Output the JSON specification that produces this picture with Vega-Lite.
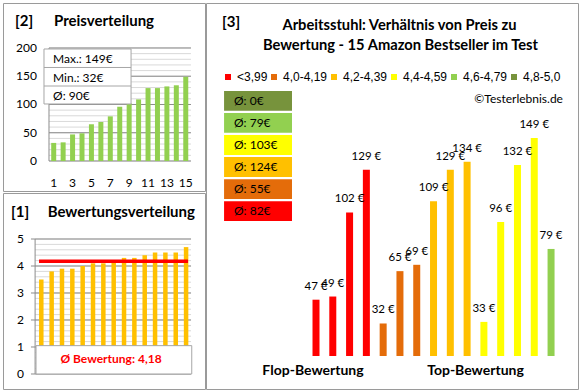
{
 "$schema": "https://vega.github.io/schema/vega-lite/v6.json",
 "background": "white",
 "padding": {"left": 2, "top": 2, "right": 3, "bottom": 2},
 "config": {
  "view": {"stroke": "#9a9a9a", "strokeWidth": 1},
  "font": "Lato",
  "locale": {"number": {"decimal": ",", "thousands": ".", "grouping": [3], "currency": ["", " €"]}}
 },
 "datasets": {
  "prices": [{"rank":1,"price":32},{"rank":2,"price":33},{"rank":3,"price":47},{"rank":4,"price":49},{"rank":5,"price":65},{"rank":6,"price":69},{"rank":7,"price":79},{"rank":8,"price":96},{"rank":9,"price":102},{"rank":10,"price":109},{"rank":11,"price":129},{"rank":12,"price":129},{"rank":13,"price":132},{"rank":14,"price":134},{"rank":15,"price":149}],
  "ratings": [{"rank":1,"rating":3.5},{"rank":2,"rating":3.8},{"rank":3,"rating":3.9},{"rank":4,"rating":3.9},{"rank":5,"rating":4.0},{"rank":6,"rating":4.1},{"rank":7,"rating":4.1},{"rank":8,"rating":4.2},{"rank":9,"rating":4.3},{"rank":10,"rating":4.3},{"rank":11,"rating":4.4},{"rank":12,"rating":4.5},{"rank":13,"rating":4.5},{"rank":14,"rating":4.5},{"rank":15,"rating":4.7}],
  "products": [{"pos":1,"price":47,"group":"<3,99"},{"pos":2,"price":49,"group":"<3,99"},{"pos":3,"price":102,"group":"<3,99"},{"pos":4,"price":129,"group":"<3,99"},{"pos":5,"price":32,"group":"4,0-4,19"},{"pos":6,"price":65,"group":"4,0-4,19"},{"pos":7,"price":69,"group":"4,0-4,19"},{"pos":8,"price":109,"group":"4,2-4,39"},{"pos":9,"price":129,"group":"4,2-4,39"},{"pos":10,"price":134,"group":"4,2-4,39"},{"pos":11,"price":33,"group":"4,4-4,59"},{"pos":12,"price":96,"group":"4,4-4,59"},{"pos":13,"price":132,"group":"4,4-4,59"},{"pos":14,"price":149,"group":"4,4-4,59"},{"pos":15,"price":79,"group":"4,6-4,79"}],
  "groups": [{"group":"4,8-5,0","avg":"Ø: 0€"},{"group":"4,6-4,79","avg":"Ø: 79€"},{"group":"4,4-4,59","avg":"Ø: 103€"},{"group":"4,2-4,39","avg":"Ø: 124€"},{"group":"4,0-4,19","avg":"Ø: 55€"},{"group":"<3,99","avg":"Ø: 82€"}],
  "g2minor": [{"v":0},{"v":10},{"v":20},{"v":30},{"v":40},{"v":50},{"v":60},{"v":70},{"v":80},{"v":90},{"v":100},{"v":110},{"v":120},{"v":130},{"v":140},{"v":150},{"v":160},{"v":170},{"v":180},{"v":190},{"v":200}],
  "g2major": [{"v":0},{"v":50},{"v":100},{"v":150},{"v":200}],
  "t2x": [{"v":1},{"v":3},{"v":5},{"v":7},{"v":9},{"v":11},{"v":13},{"v":15}],
  "g1minor": [{"v":0},{"v":0.2},{"v":0.4},{"v":0.6},{"v":0.8},{"v":1},{"v":1.2},{"v":1.4},{"v":1.6},{"v":1.8},{"v":2},{"v":2.2},{"v":2.4},{"v":2.6},{"v":2.8},{"v":3},{"v":3.2},{"v":3.4},{"v":3.6},{"v":3.8},{"v":4},{"v":4.2},{"v":4.4},{"v":4.6},{"v":4.8},{"v":5}],
  "g1major": [{"v":0},{"v":1},{"v":2},{"v":3},{"v":4},{"v":5}]
 },
 "spacing": -2,
 "hconcat": [
  {
   "spacing": 0,
   "vconcat": [
    {
     "width": 202, "height": 188,
     "layer": [
      {"data": {"name": "g2minor"}, "mark": {"type": "rule", "color": "#d9d9d9"},
       "encoding": {"y": {"field": "v", "type": "quantitative", "axis": null, "scale": {"domain": [-53.1, 279.6], "nice": false, "zero": false, "padding": 0}},
        "x": {"datum": 0.5, "type": "quantitative", "axis": null, "scale": {"domain": [-4.376, 17.04], "nice": false, "zero": false, "padding": 0}}, "x2": {"datum": 15.55}}},
      {"data": {"name": "g2major"}, "mark": {"type": "rule", "color": "#8c8c8c"},
       "encoding": {"y": {"field": "v", "type": "quantitative", "axis": null}, "x": {"datum": 0.5, "type": "quantitative", "axis": null}, "x2": {"datum": 15.55}}},
      {"data": {"name": "g2major"}, "mark": {"type": "text", "align": "right", "baseline": "middle", "fontSize": 12, "color": "#000"},
       "encoding": {"y": {"field": "v", "type": "quantitative", "axis": null}, "x": {"datum": -0.77, "type": "quantitative", "axis": null}, "text": {"field": "v", "type": "quantitative"}}},
      {"data": {"name": "t2x"}, "mark": {"type": "text", "align": "center", "baseline": "middle", "fontSize": 12, "color": "#000"},
       "encoding": {"x": {"field": "v", "type": "quantitative", "axis": null}, "y": {"datum": -38.9, "type": "quantitative", "axis": null}, "text": {"field": "v", "type": "quantitative"}}},
      {"data": {"values": [{}]}, "mark": {"type": "rule", "color": "#8c8c8c"},
       "encoding": {"x": {"datum": 0.5, "type": "quantitative", "axis": null}, "y": {"datum": 0, "type": "quantitative", "axis": null}, "y2": {"datum": 200}}},
      {"data": {"name": "prices"}, "mark": {"type": "bar", "color": "#92D050", "size": 5},
       "encoding": {
        "x": {"field": "rank", "type": "quantitative", "axis": null},
        "y": {"field": "price", "type": "quantitative", "axis": null},
        "y2": {"datum": 0}}},
      {"data": {"values": [{}]}, "mark": {"type": "rect", "fill": "white", "stroke": "#a6a6a6", "strokeWidth": 1},
       "encoding": {"x": {"datum": -0.03, "type": "quantitative", "axis": null}, "x2": {"datum": 9.2}, "y": {"datum": 198.2, "type": "quantitative", "axis": null}, "y2": {"datum": 100.9}}},
      {"data": {"values": [{}]}, "mark": {"type": "rule", "color": "#a6a6a6"},
       "encoding": {"x": {"datum": -0.03, "type": "quantitative", "axis": null}, "x2": {"datum": 9.2}, "y": {"datum": 165.5, "type": "quantitative", "axis": null}}},
      {"data": {"values": [{}]}, "mark": {"type": "rule", "color": "#a6a6a6"},
       "encoding": {"x": {"datum": -0.03, "type": "quantitative", "axis": null}, "x2": {"datum": 9.2}, "y": {"datum": 132.7, "type": "quantitative", "axis": null}}},
      {"data": {"values": [{"t": "Max.: 149€"}]}, "mark": {"type": "text", "align": "left", "baseline": "middle", "fontSize": 12, "color": "#000"},
       "encoding": {"x": {"datum": 0.93, "type": "quantitative", "axis": null}, "y": {"datum": 180.5, "type": "quantitative", "axis": null}, "text": {"field": "t"}}},
      {"data": {"values": [{"t": "Min.: 32€"}]}, "mark": {"type": "text", "align": "left", "baseline": "middle", "fontSize": 12, "color": "#000"},
       "encoding": {"x": {"datum": 0.93, "type": "quantitative", "axis": null}, "y": {"datum": 146, "type": "quantitative", "axis": null}, "text": {"field": "t"}}},
      {"data": {"values": [{"t": "Ø: 90€"}]}, "mark": {"type": "text", "align": "left", "baseline": "middle", "fontSize": 12, "color": "#000"},
       "encoding": {"x": {"datum": 0.93, "type": "quantitative", "axis": null}, "y": {"datum": 115.5, "type": "quantitative", "axis": null}, "text": {"field": "t"}}},
      {"data": {"values": [{"t": "[2]"}]}, "mark": {"type": "text", "align": "left", "baseline": "middle", "fontSize": 15, "fontWeight": "bold", "color": "#000"},
       "encoding": {"x": {"datum": -3.1, "type": "quantitative", "axis": null}, "y": {"datum": 247.8, "type": "quantitative", "axis": null}, "text": {"field": "t"}}},
      {"data": {"values": [{"t": "Preisverteilung"}]}, "mark": {"type": "text", "align": "left", "baseline": "middle", "fontSize": 15, "fontWeight": "bold", "color": "#000"},
       "encoding": {"x": {"datum": 1.03, "type": "quantitative", "axis": null}, "y": {"datum": 247.8, "type": "quantitative", "axis": null}, "text": {"field": "t"}}}
     ]
    },
    {
     "width": 202, "height": 196,
     "layer": [
      {"data": {"name": "g1minor"}, "mark": {"type": "rule", "color": "#d9d9d9"},
       "encoding": {"y": {"field": "v", "type": "quantitative", "axis": null, "scale": {"domain": [-0.556, 6.704], "nice": false, "zero": false, "padding": 0}},
        "x": {"datum": 0.4, "type": "quantitative", "axis": null, "scale": {"domain": [-2.704, 16.83], "nice": false, "zero": false, "padding": 0}}, "x2": {"datum": 15.48}}},
      {"data": {"name": "g1major"}, "mark": {"type": "rule", "color": "#8c8c8c"},
       "encoding": {"y": {"field": "v", "type": "quantitative", "axis": null}, "x": {"datum": 0.0, "type": "quantitative", "axis": null}, "x2": {"datum": 15.48}}},
      {"data": {"name": "g1major"}, "mark": {"type": "text", "align": "right", "baseline": "middle", "fontSize": 12, "color": "#000"},
       "encoding": {"y": {"field": "v", "type": "quantitative", "axis": null}, "x": {"datum": -0.673, "type": "quantitative", "axis": null}, "text": {"field": "v", "type": "quantitative"}}},
      {"data": {"values": [{}]}, "mark": {"type": "rule", "color": "#8c8c8c"},
       "encoding": {"x": {"datum": 0.4, "type": "quantitative", "axis": null}, "y": {"datum": 0, "type": "quantitative", "axis": null}, "y2": {"datum": 5}}},
      {"data": {"name": "ratings"}, "mark": {"type": "bar", "color": "#FFC000", "size": 4.5},
       "encoding": {
        "x": {"field": "rank", "type": "quantitative", "axis": null},
        "y": {"field": "rating", "type": "quantitative", "axis": null},
        "y2": {"datum": 0}}},
      {"data": {"values": [{}]}, "mark": {"type": "rule", "color": "#FF0000", "strokeWidth": 3.5},
       "encoding": {"x": {"datum": 0.78, "type": "quantitative", "axis": null}, "x2": {"datum": 15.19}, "y": {"datum": 4.18, "type": "quantitative", "axis": null}}},
      {"data": {"values": [{}]}, "mark": {"type": "rect", "fill": "white", "stroke": "#a6a6a6", "strokeWidth": 1},
       "encoding": {"x": {"datum": 0.49, "type": "quantitative", "axis": null}, "x2": {"datum": 15.55}, "y": {"datum": 0, "type": "quantitative", "axis": null}, "y2": {"datum": 1.05}}},
      {"data": {"values": [{"t": "Ø Bewertung: 4,18"}]}, "mark": {"type": "text", "align": "center", "baseline": "middle", "fontSize": 12, "fontWeight": "bold", "color": "#FF0000"},
       "encoding": {"x": {"datum": 7.74, "type": "quantitative", "axis": null}, "y": {"datum": 0.556, "type": "quantitative", "axis": null}, "text": {"field": "t"}}},
      {"data": {"values": [{"t": "[1]"}]}, "mark": {"type": "text", "align": "left", "baseline": "middle", "fontSize": 15, "fontWeight": "bold", "color": "#000"},
       "encoding": {"x": {"datum": -1.93, "type": "quantitative", "axis": null}, "y": {"datum": 6.0, "type": "quantitative", "axis": null}, "text": {"field": "t"}}},
      {"data": {"values": [{"t": "Bewertungsverteilung"}]}, "mark": {"type": "text", "align": "right", "baseline": "middle", "fontSize": 15, "fontWeight": "bold", "color": "#000"},
       "encoding": {"x": {"datum": 15.86, "type": "quantitative", "axis": null}, "y": {"datum": 6.0, "type": "quantitative", "axis": null}, "text": {"field": "t"}}}
     ]
    }
   ]
  },
  {
   "width": 372, "height": 386,
   "resolve": {"scale": {"y": "independent"}},
   "layer": [
    {
     "layer": [
      {"data": {"name": "products"}, "mark": {"type": "bar", "size": 7},
       "encoding": {
        "x": {"field": "pos", "type": "quantitative", "axis": null, "scale": {"domain": [-5.552, 16.605], "nice": false, "zero": false, "padding": 0}},
        "y": {"field": "price", "type": "quantitative", "axis": null, "scale": {"domain": [-9.31, 234.07], "nice": false, "zero": false, "padding": 0}},
        "y2": {"datum": 11.5},
        "color": {"field": "group", "type": "nominal",
         "scale": {"domain": ["<3,99", "4,0-4,19", "4,2-4,39", "4,4-4,59", "4,6-4,79", "4,8-5,0"], "range": ["#FF0000", "#E46C0A", "#FFC000", "#FFFF00", "#92D050", "#77933C"]},
         "legend": {"orient": "none", "legendX": 219, "legendY": 68, "padding": 0, "direction": "horizontal", "gridAlign": "none", "title": null, "symbolType": "square", "symbolSize": 36, "symbolStrokeWidth": 0, "labelFont": "Liberation Sans", "labelFontSize": 12, "labelColor": "#000", "columnPadding": 0, "labelOffset": 3}}}},
      {"data": {"name": "products"}, "mark": {"type": "text", "baseline": "middle", "align": "center", "dy": -13, "fontSize": 11.5, "color": "#000"},
       "encoding": {
        "x": {"field": "pos", "type": "quantitative", "axis": null},
        "y": {"field": "price", "type": "quantitative", "axis": null},
        "text": {"field": "price", "type": "quantitative", "format": "$.0f"}}},
      {"data": {"values": [{"t": "[3]"}]}, "mark": {"type": "text", "align": "left", "baseline": "middle", "fontSize": 15, "fontWeight": "bold", "color": "#000"},
       "encoding": {"x": {"datum": -4.6, "type": "quantitative", "axis": null}, "y": {"datum": 222.1, "type": "quantitative", "axis": null}, "text": {"field": "t"}}},
      {"data": {"values": [{"t": "Arbeitsstuhl: Verhältnis von Preis zu"}]}, "mark": {"type": "text", "align": "center", "baseline": "middle", "fontSize": 14.7, "fontWeight": "bold", "color": "#000"},
       "encoding": {"x": {"datum": 5.97, "type": "quantitative", "axis": null}, "y": {"datum": 219.6, "type": "quantitative", "axis": null}, "text": {"field": "t"}}},
      {"data": {"values": [{"t": "Bewertung - 15 Amazon Bestseller im Test"}]}, "mark": {"type": "text", "align": "center", "baseline": "middle", "fontSize": 14.7, "fontWeight": "bold", "color": "#000"},
       "encoding": {"x": {"datum": 6.03, "type": "quantitative", "axis": null}, "y": {"datum": 207.0, "type": "quantitative", "axis": null}, "text": {"field": "t"}}},
      {"data": {"values": [{"t": "©Testerlebnis.de"}]}, "mark": {"type": "text", "align": "right", "baseline": "middle", "fontSize": 12, "color": "#000"},
       "encoding": {"x": {"datum": 15.71, "type": "quantitative", "axis": null}, "y": {"datum": 173.5, "type": "quantitative", "axis": null}, "text": {"field": "t"}}},
      {"data": {"values": [{"t": "Flop-Bewertung"}]}, "mark": {"type": "text", "align": "center", "baseline": "middle", "fontSize": 14, "fontWeight": "bold", "color": "#000"},
       "encoding": {"x": {"datum": 0.82, "type": "quantitative", "axis": null}, "y": {"datum": 2.04, "type": "quantitative", "axis": null}, "text": {"field": "t"}}},
      {"data": {"values": [{"t": "Top-Bewertung"}]}, "mark": {"type": "text", "align": "center", "baseline": "middle", "fontSize": 14, "fontWeight": "bold", "color": "#000"},
       "encoding": {"x": {"datum": 10.5, "type": "quantitative", "axis": null}, "y": {"datum": 2.04, "type": "quantitative", "axis": null}, "text": {"field": "t"}}}
     ]
    },
    {
     "data": {"name": "groups"},
     "layer": [
      {"mark": {"type": "rect"},
       "encoding": {
        "x": {"datum": -4.476, "type": "quantitative", "axis": null}, "x2": {"datum": -0.43},
        "y": {"field": "group", "type": "nominal", "axis": null, "sort": null, "scale": {"domain": ["4,8-5,0", "4,6-4,79", "4,4-4,59", "4,2-4,39", "4,0-4,19", "<3,99"], "range": [88, 218], "paddingInner": 0.1, "paddingOuter": 0}},
        "color": {"field": "group", "type": "nominal", "legend": null}}},
      {"mark": {"type": "text", "align": "left", "baseline": "middle", "fontSize": 12, "color": "#000"},
       "encoding": {
        "x": {"datum": -3.884, "type": "quantitative", "axis": null},
        "y": {"field": "group", "type": "nominal", "axis": null, "sort": null},
        "text": {"field": "avg"}}}
     ]
    }
   ]
  }
 ]
}
